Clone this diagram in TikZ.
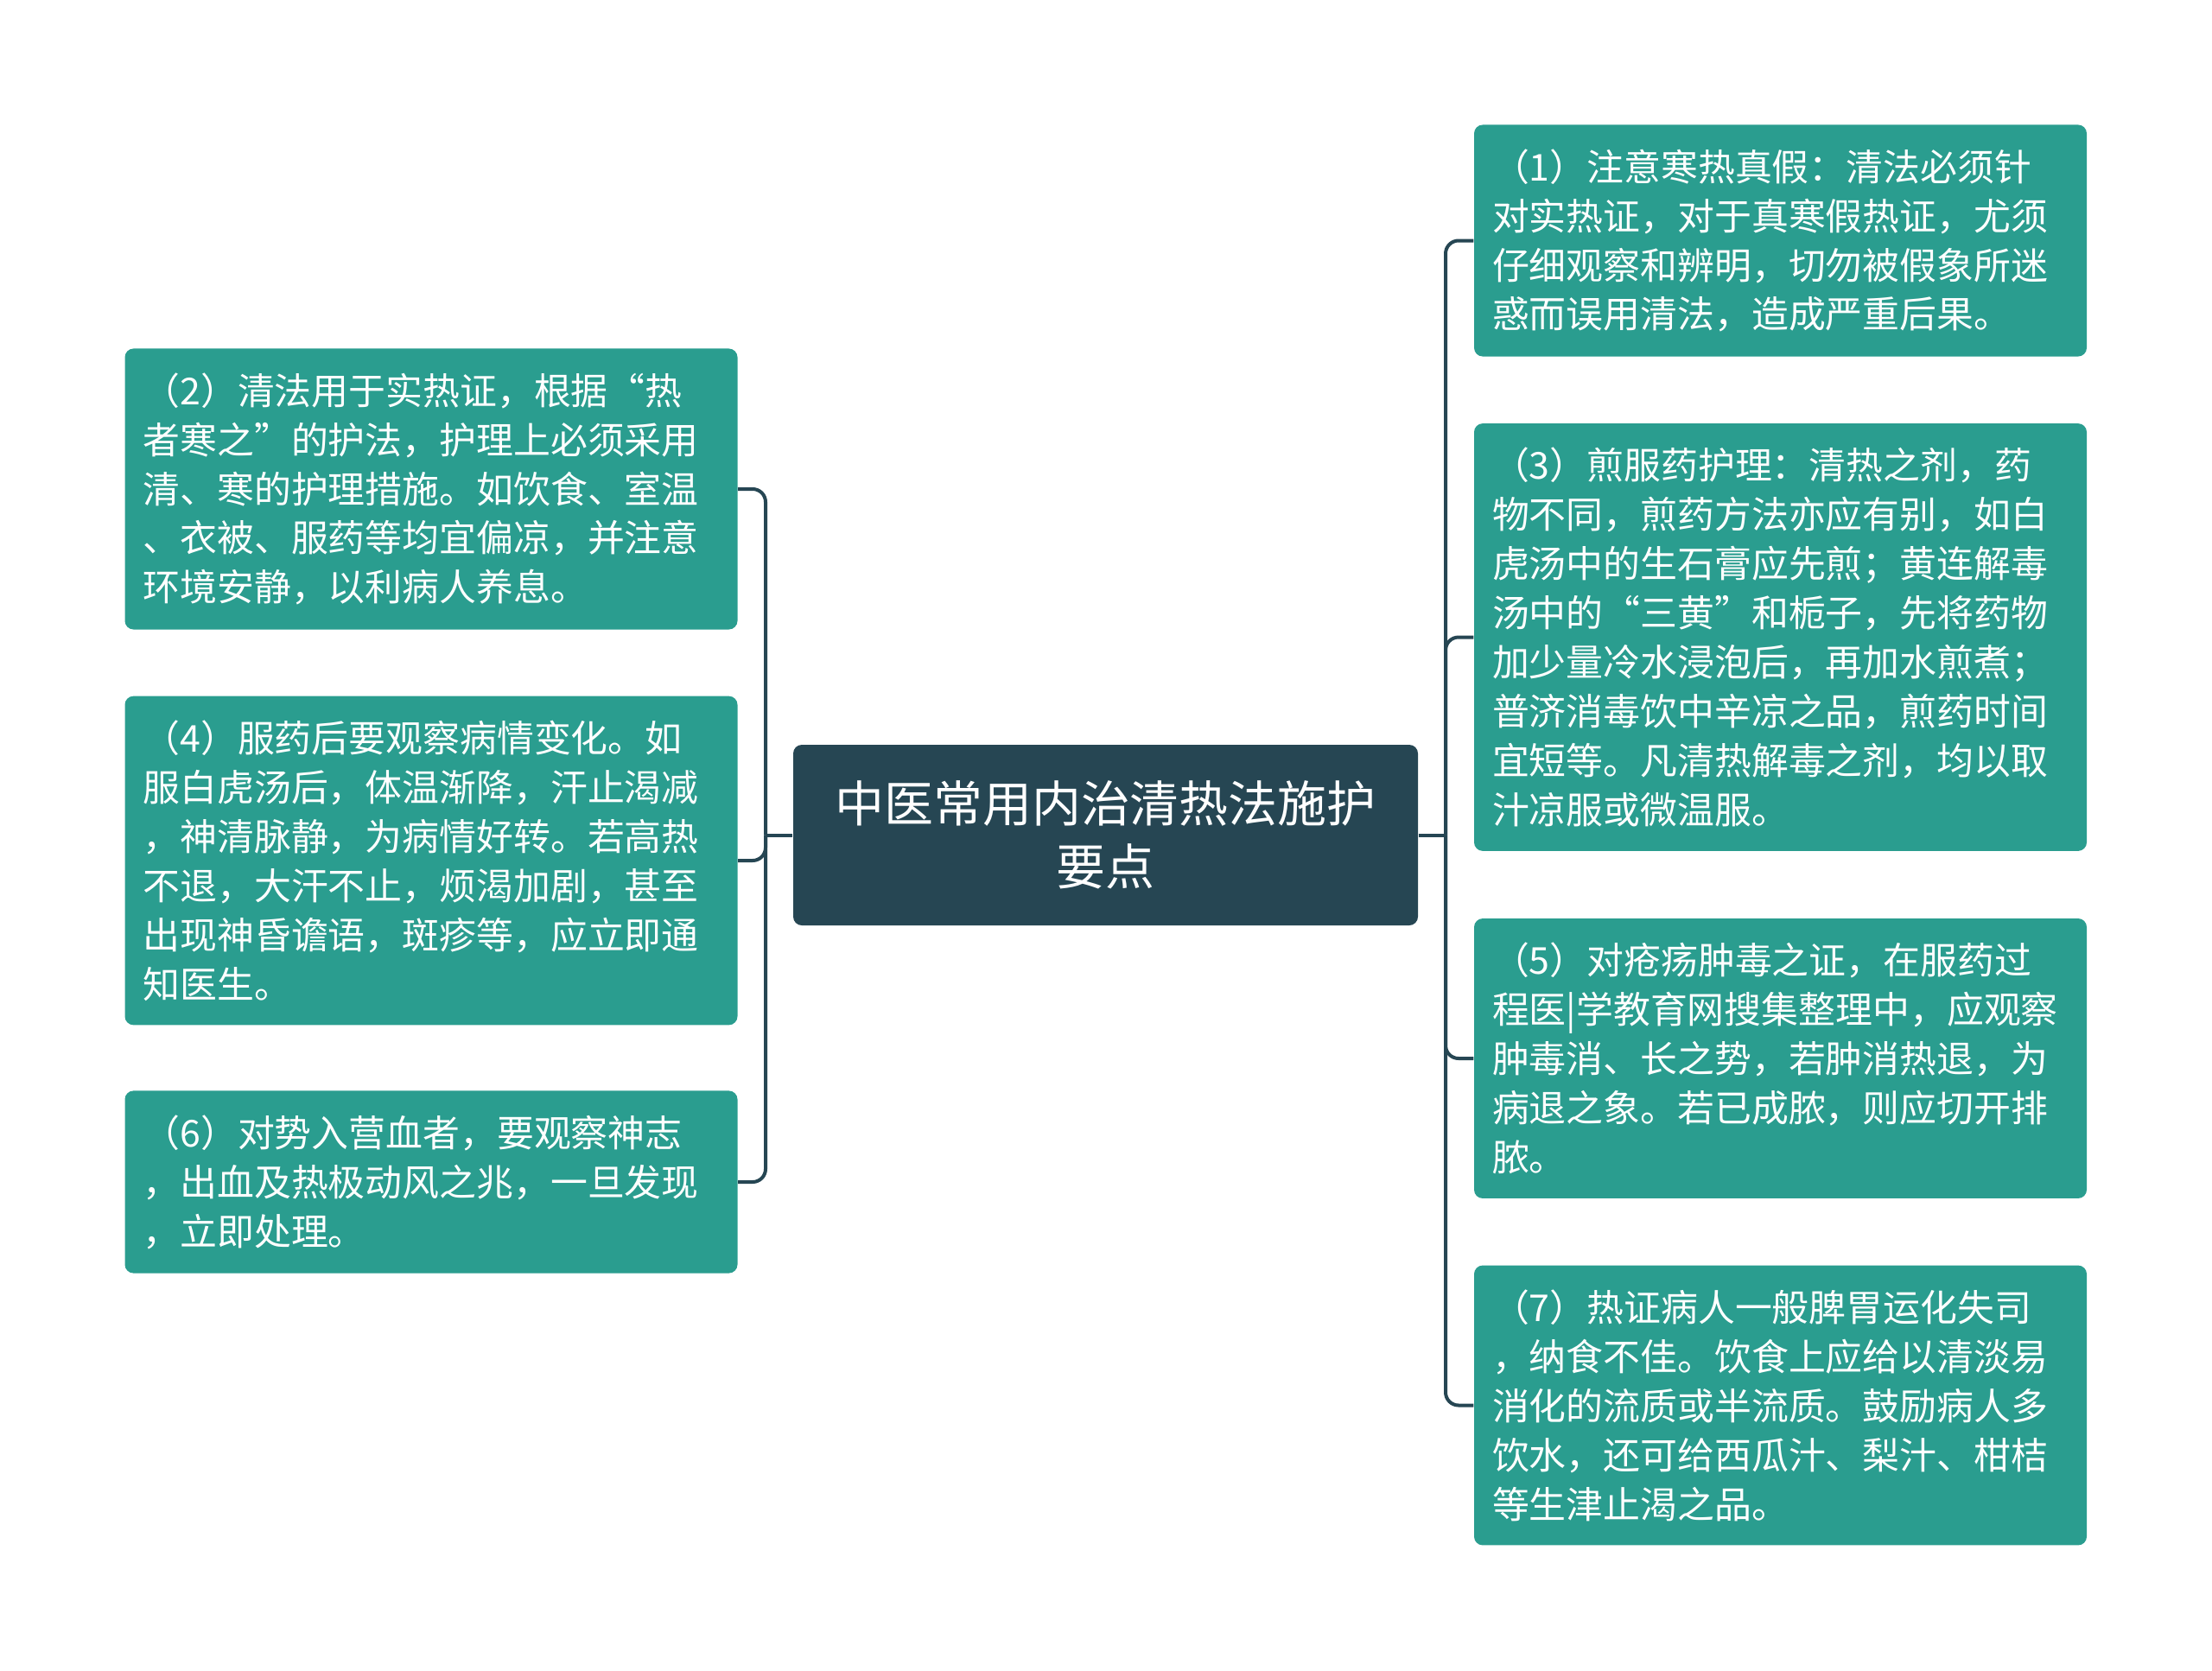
\documentclass[tikz,border=0pt]{standalone}
\usepackage{fontspec}
\setmainfont{Noto Sans CJK SC}
\definecolor{leafgreen}{HTML}{2A9D8F}
\definecolor{rootblue}{HTML}{264653}
\tikzset{%
  topic/.style = {shape=rectangle, rounded corners=0.1cm,%
                  fill=rootblue, text=white, align=center,%
                  minimum width=7.23cm, minimum height=2.09cm,%
                  font=\fontsize{16.2pt}{20.8pt}\selectfont},%
  leaf/.style  = {shape=rectangle, rounded corners=0.1cm,%
                  fill=leafgreen, text=white, align=left,%
                  text width=6.67cm, inner xsep=0.21cm, inner ysep=0.28cm,%
                  font=\fontsize{12.2pt}{16.2pt}\selectfont},%
  link/.style  = {draw=rootblue, line width=0.04cm, rounded corners=0.15cm}%
}

\begin{document}
\begin{tikzpicture}
		\useasboundingbox (0,0) rectangle (25.6,-19.34);
		\node[topic] (root) at (12.795,-9.665) {中医常用内治清热法施护\\要点};
		% right side
		\node[leaf] (p1) at (20.605,-2.785) {（1）注意寒热真假：清法必须针\\对实热证，对于真寒假热证，尤须\\仔细观察和辨明，切勿被假象所迷\\惑而误用清法，造成严重后果。};
		\node[leaf] (p3) at (20.605,-7.375) {（3）煎服药护理：清热之剂，药\\物不同，煎药方法亦应有别，如白\\虎汤中的生石膏应先煎；黄连解毒\\汤中的“三黄”和栀子，先将药物\\加少量冷水浸泡后，再加水煎煮；\\普济消毒饮中辛凉之品，煎药时间\\宜短等。凡清热解毒之剂，均以取\\汁凉服或微温服。};
		\node[leaf] (p5) at (20.605,-12.25) {（5）对疮疡肿毒之证，在服药过\\程医|学教育网搜集整理中，应观察\\肿毒消、长之势，若肿消热退，为\\病退之象。若已成脓，则应切开排\\脓。};
		\node[leaf] (p7) at (20.605,-16.265) {（7）热证病人一般脾胃运化失司\\，纳食不佳。饮食上应给以清淡易\\消化的流质或半流质。鼓励病人多\\饮水，还可给西瓜汁、梨汁、柑桔\\等生津止渴之品。};
		% left side
		\node[leaf] (p2) at (4.99,-5.66) {（2）清法用于实热证，根据“热\\者寒之”的护法，护理上必须采用\\清、寒的护理措施。如饮食、室温\\、衣被、服药等均宜偏凉，并注意\\环境安静，以利病人养息。};
		\node[leaf] (p4) at (4.99,-9.96) {（4）服药后要观察病情变化。如\\服白虎汤后，体温渐降，汗止渴减\\，神清脉静，为病情好转。若高热\\不退，大汗不止，烦渴加剧，甚至\\出现神昏谵语，斑疹等，应立即通\\知医生。};
		\node[leaf] (p6) at (4.99,-13.68) {（6）对势入营血者，要观察神志\\，出血及热极动风之兆，一旦发现\\，立即处理。};
		% connectors
		\coordinate (lfork) at (8.86,-9.665);
		\coordinate (rfork) at (16.73,-9.665);
		\draw[link] (root.west) -- (lfork);
		\draw[link] (root.east) -- (rfork);
		\foreach \p in {p2,p4,p6} \draw[link] (lfork) |- (\p.east);
		\foreach \p in {p1,p3,p5,p7} \draw[link] (rfork) |- (\p.west);
	\end{tikzpicture}
\end{document}
